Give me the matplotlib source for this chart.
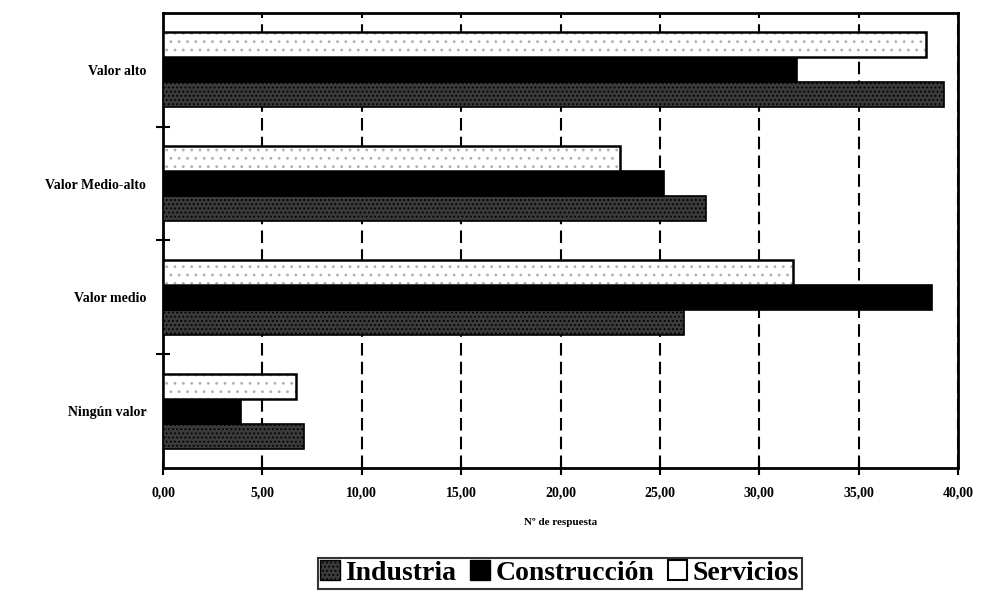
import matplotlib.pyplot as plt
import numpy as np
from matplotlib.ticker import FixedLocator, FuncFormatter
from matplotlib.patches import Patch

plt.rcParams['font.family'] = ['Liberation Serif', 'DejaVu Serif']
plt.rcParams['hatch.linewidth'] = 0.8

# datos
categorias = ["Ningún valor", "Valor medio", "Valor Medio-alto", "Valor alto"]
industria = [7.1, 26.2, 27.3, 39.3]
construccion = [3.9, 38.7, 25.2, 31.9]
servicios = [6.7, 31.7, 23.0, 38.4]
series = ["Industria", "Construcción", "Servicios"]

fig = plt.figure(figsize=(9.82, 5.92), dpi=100)
ax = fig.add_axes([0.166, 0.2095, 0.8096, 0.7686])

y = np.arange(len(categorias))
h = 0.22

ax.barh(y - h, industria, height=h, color="#3a3a3a", edgecolor="black",
        hatch="....", linewidth=1.2, zorder=3)
ax.barh(y, construccion, height=h, color="black", edgecolor="black",
        linewidth=1.2, zorder=3)
# servicios: fondo blanco con puntos grises finos + contorno negro
ax.barh(y + h, servicios, height=h, color="white", edgecolor="#b0b0b0",
        hatch="..", linewidth=0, zorder=3)
ax.barh(y + h, servicios, height=h, fill=False, edgecolor="black",
        linewidth=1.8, zorder=4)

ax.set_xlim(0, 40)
ax.set_ylim(-0.5, len(categorias) - 0.5)
ax.set_xticks(np.arange(0, 41, 5))
ax.xaxis.set_major_formatter(FuncFormatter(lambda v, p: f"{v:.2f}".replace(".", ",")))
ax.set_yticks(y)
ax.set_yticklabels(categorias, fontsize=10, fontweight="bold")
ax.yaxis.set_minor_locator(FixedLocator(y[:-1] + 0.5))
ax.tick_params(axis="y", which="major", length=0, pad=12)
ax.tick_params(axis="y", which="minor", direction="inout", length=10, width=1.5)
ax.tick_params(axis="x", direction="inout", length=10, width=1.5, pad=8)
for lab in ax.get_xticklabels():
    lab.set_fontsize(10)
    lab.set_fontweight("bold")

ax.grid(axis="x", color="black", linestyle=(0, (6, 3)), linewidth=1.5, zorder=1)
for s in ax.spines.values():
    s.set_linewidth(2)

ax.set_xlabel("Nº de respuesta", fontsize=8, fontweight="bold", labelpad=14)

handles = [
    Patch(facecolor="#3a3a3a", edgecolor="black", hatch="...."),
    Patch(facecolor="black", edgecolor="black"),
    Patch(facecolor="white", edgecolor="black", linewidth=1.5),
]
leg = fig.legend(handles, series, loc="center", bbox_to_anchor=(0.57, 0.032), ncol=3,
                 prop={"size": 20, "weight": "bold"}, frameon=True, fancybox=False,
                 handlelength=0.7, handleheight=0.7, handletextpad=0.2,
                 columnspacing=0.5, borderpad=0.1, borderaxespad=0)
leg.get_frame().set_edgecolor("black")
leg.get_frame().set_linewidth(1.5)

plt.savefig("out.png", dpi=100)
